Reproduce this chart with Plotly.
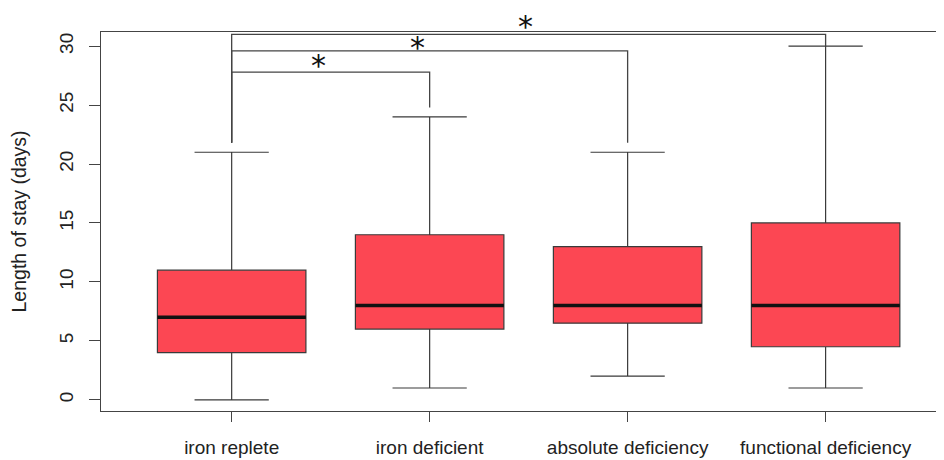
import plotly.graph_objects as go

categories = ["iron replete", "iron deficient", "absolute deficiency", "functional deficiency"]
positions = [1, 2, 3, 4]
lower_whisker = [0, 1, 2, 1]
q1_vals = [4, 6, 6.5, 4.5]
median_vals = [7, 8, 8, 8]
q3_vals = [11, 14, 13, 15]
upper_whisker = [21, 24, 21, 30]
y_ticks = [0, 5, 10, 15, 20, 25, 30]

# significance comparisons: (group a, group b, bar height, leg end a, leg end b)
comparisons = [(1, 2, 27.8, 21.8, 24.8), (1, 3, 29.6, 21.8, 21.8), (1, 4, 31.0, 21.8, 30.0)]
star_x = [1.44, 1.94, 2.485]
star_y = [28.7, 30.25, 32.0]
star_text = ["*", "*", "*"]

BOX_W = 0.75
FONT = "Liberation Sans, Arial, sans-serif"
LINE = "#444444"
L, T, B = 93, 24, 49
W, H = 936, 452
Y_RANGE = [-0.95, 31.2]

fig = go.Figure()
fig.add_trace(go.Box(
    x=positions, q1=q1_vals, median=median_vals, q3=q3_vals,
    lowerfence=lower_whisker, upperfence=upper_whisker,
    width=BOX_W, whiskerwidth=0.5, boxpoints=False,
    fillcolor="#FC4753", line=dict(color="#3a3a3a", width=1.2),
    showlegend=False, hoverinfo="skip",
))

mx, my = [], []
for p, m in zip(positions, median_vals):
    mx += [p - BOX_W / 2, p + BOX_W / 2, None]
    my += [m, m, None]
fig.add_trace(go.Scatter(x=mx, y=my, mode="lines", line=dict(color="#111111", width=3.6),
                         showlegend=False, hoverinfo="skip"))

bx, by = [], []
for a, b, h, la, lb in comparisons:
    bx += [a, a, b, b, None]
    by += [la, h, h, lb, None]
fig.add_trace(go.Scatter(x=bx, y=by, mode="lines", line=dict(color=LINE, width=1.3),
                         showlegend=False, hoverinfo="skip"))

for sx, sy, st in zip(star_x, star_y, star_text):
    fig.add_annotation(x=sx, xref="x",
                       y=(sy - Y_RANGE[0]) / (Y_RANGE[1] - Y_RANGE[0]), yref="paper",
                       text=st, showarrow=False, xanchor="center", yanchor="middle",
                       yshift=-4,
                       font=dict(family="DejaVu Sans", size=30, color="#111111"))

fig.add_annotation(x=(10 - L) / (W - L), y=0.5, xref="paper", yref="paper",
                   xanchor="center", yanchor="middle",
                   text="Length of stay (days)", textangle=-90, showarrow=False,
                   font=dict(family=FONT, size=19.5, color="#222222"))

fig.update_layout(
    width=W, height=H,
    margin=dict(l=L, r=0, t=T, b=B, autoexpand=False),
    paper_bgcolor="white", plot_bgcolor="white",
    xaxis=dict(range=[0.34, 4.598], tickvals=positions, ticktext=categories,
               showgrid=False, zeroline=False, showline=True, mirror=True,
               linecolor=LINE, linewidth=1.3, ticks="outside", ticklen=10,
               tickcolor=LINE, tickwidth=1.3, ticklabelstandoff=9,
               tickfont=dict(family=FONT, size=19, color="#222222")),
    yaxis=dict(range=Y_RANGE, tickvals=y_ticks, showgrid=False, zeroline=False,
               showline=True, linecolor=LINE, linewidth=1.3, ticks="outside", ticklen=11,
               tickcolor=LINE, tickwidth=1.3, tickangle=-90, ticklabelstandoff=8,
               tickfont=dict(family=FONT, size=19, color="#222222")),
)

fig.write_html("out.html")
